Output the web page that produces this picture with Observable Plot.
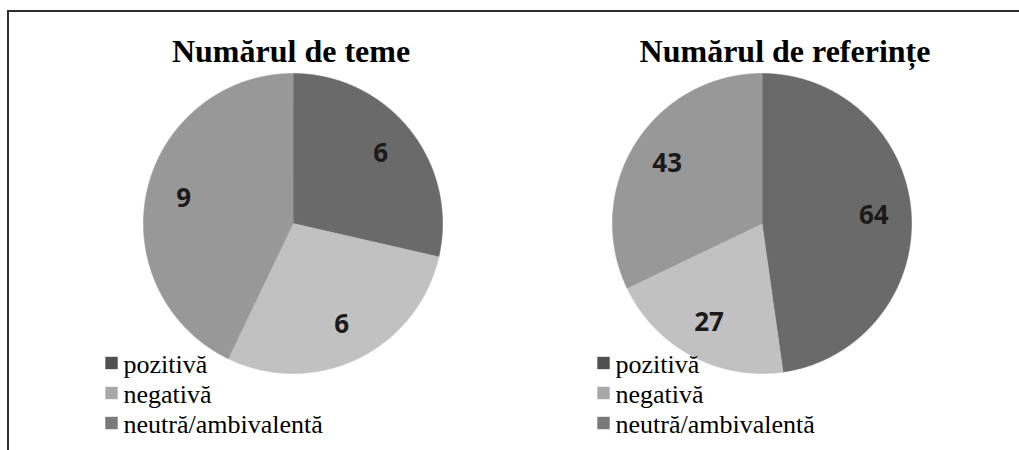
<!DOCTYPE html>
<html><head><meta charset="utf-8">
<script src="https://cdn.jsdelivr.net/npm/d3@7"></script>
<script src="https://cdn.jsdelivr.net/npm/@observablehq/plot@0.6"></script>
<style>
html,body{margin:0;padding:0;background:#fff;}
#wrap{position:relative;width:1019px;height:450px;overflow:hidden;}
#wrap svg{position:absolute;left:0;top:0;}
#frame{position:absolute;left:7px;top:10px;right:-10px;bottom:-10px;border-top:2px solid #2e2e2e;border-left:2px solid #2e2e2e;pointer-events:none;}
</style></head><body>
<div id="wrap"><div id="frame"></div></div>
<script>
// ---- data ----
const charts = ["Numărul de teme", "Numărul de referințe"];
const categories = ["pozitivă", "negativă", "neutră/ambivalentă"];
const teme = [6, 6, 9];
const referinte = [64, 27, 43];
const sliceColors = ["#6a6a6a", "#c1c1c1", "#989898"];
const swatchColors = ["#505050", "#a8a8a8", "#7a7a7a"];

// ---- layout ----
const titleDx = [-2, 23];
const legendDx = [-22, 1];
const labelR = 0.75;

const pie = d3.pie().sort(null).value(d => d.value);
const slices = [], labels = [], legend = [];
[teme, referinte].forEach((vals, ci) => {
  const chart = charts[ci];
  const arcs = pie(categories.map((c, i) => ({chart, category: c, value: vals[i], i})));
  arcs.forEach(a => {
    const id = chart + "|" + a.data.category;
    const n = Math.max(2, Math.ceil((a.endAngle - a.startAngle) / 0.005));
    slices.push({id, chart, color: sliceColors[a.data.i], x: 0, y: 0});
    for (let k = 0; k <= n; k++) {
      const t = a.startAngle + (a.endAngle - a.startAngle) * k / n;
      slices.push({id, chart, color: sliceColors[a.data.i], x: Math.sin(t), y: Math.cos(t)});
    }
    const mid = (a.startAngle + a.endAngle) / 2;
    labels.push({chart, text: String(a.data.value), x: labelR * Math.sin(mid), y: labelR * Math.cos(mid)});
  });
  categories.forEach((c, i) => legend.push({chart, ci, row: i, text: c, color: swatchColors[i]}));
});

const legendY = row => -0.94 - 0.2 * row;

const marks = [
  Plot.line(slices, {fx: "chart", x: "x", y: "y", z: "id", fill: "color", stroke: "color", strokeWidth: 0.6, curve: "linear-closed"}),
  Plot.text(labels, {fx: "chart", x: "x", y: "y", text: "text", fontFamily: "Open Sans", fontWeight: "bold", fontSize: 26, fill: "#1a1a1a", textAnchor: "middle", lineAnchor: "middle"})
];
charts.forEach((chart, ci) => {
  marks.push(Plot.text([chart], {fx: d => d, frameAnchor: "top", dx: titleDx[ci], dy: -22, text: d => d, fontFamily: "Liberation Serif", fontWeight: "bold", fontSize: 32, fill: "#000", lineAnchor: "middle"}));
  const lg = legend.filter(d => d.ci === ci);
  marks.push(Plot.dot(lg, {fx: "chart", frameAnchor: "left", y: d => legendY(d.row) + 0.01, dx: legendDx[ci], symbol: "square", r: 7, fill: "color", stroke: null}));
  marks.push(Plot.text(lg, {fx: "chart", frameAnchor: "left", y: d => legendY(d.row), dx: legendDx[ci] + 12, text: "text", textAnchor: "start", lineAnchor: "middle", fontFamily: "Liberation Serif", fontSize: 26, fill: "#000"}));
});

const chart = Plot.plot({
  width: 1019, height: 450,
  marginLeft: 132, marginRight: 97, marginTop: 73, marginBottom: 77,
  fx: {domain: charts, paddingInner: 0.319, paddingOuter: 0, axis: null, label: null},
  x: {domain: [-1.0667, 1.0667], axis: null},
  y: {domain: [-1, 1], axis: null},
  color: {type: "identity"},
  style: {background: "transparent", overflow: "visible"},
  marks
});
document.getElementById("wrap").insertBefore(chart, document.getElementById("frame"));
</script>
</body></html>
